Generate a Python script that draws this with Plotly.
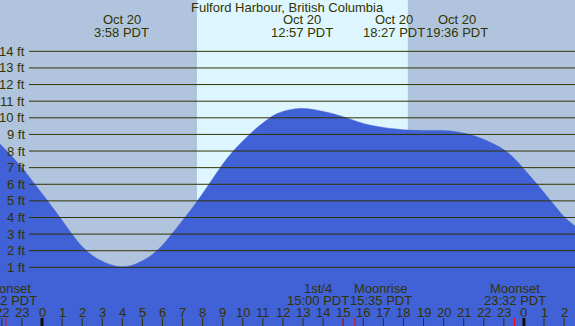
import plotly.graph_objects as go

# Tide curve (hours relative to Oct 20 00:00 PDT, height in ft)
hours = [-2.1, -1.5, -1.0, -0.5, 0.0, 0.5, 1.0, 1.5, 2.0, 2.5, 3.0, 3.5, 4.0, 4.5,
         5.0, 5.5, 6.0, 6.5, 7.0, 7.5, 8.0, 8.5, 9.0, 9.5, 10.0, 10.5, 11.0, 11.5,
         12.0, 12.5, 13.0, 13.5, 14.0, 14.5, 15.0, 15.5, 16.0, 16.5, 17.0, 17.5,
         18.0, 18.5, 19.0, 19.5, 20.0, 20.5, 21.0, 21.5, 22.0, 22.5, 23.0, 23.5,
         24.0, 24.5, 25.0, 25.5, 26.0, 26.55]
heights = [8.43, 7.68, 6.99, 6.23, 5.44, 4.65, 3.83, 2.99, 2.25, 1.72, 1.37, 1.13, 1.04, 1.13,
           1.39, 1.78, 2.33, 3.06, 3.82, 4.60, 5.44, 6.33, 7.21, 7.96, 8.60, 9.18, 9.68, 10.12,
           10.38, 10.52, 10.56, 10.50, 10.38, 10.24, 10.06, 9.86, 9.66, 9.52, 9.42, 9.34,
           9.28, 9.25, 9.24, 9.24, 9.23, 9.18, 9.08, 8.92, 8.70, 8.42, 8.08, 7.58,
           6.92, 6.22, 5.50, 4.76, 4.05, 3.48]

# Tide events (top labels)
tide_hours = [3.97, 12.95, 18.45, 19.6]
tide_dates = ["Oct 20", "Oct 20", "Oct 20", "Oct 20"]
tide_times = ["3:58 PDT", "12:57 PDT", "18:27 PDT", "19:36 PDT"]
tide_shift = [0, 0, -18, 21]

# Moon events (bottom labels)
moon_hours = [-1.8, 15.0, 15.583, 23.533]
moon_names = ["Moonset", "1st/4", "Moonrise", "Moonset"]
moon_times = ["22:12 PDT", "15:00 PDT", "15:35 PDT", "23:32 PDT"]
moon_shift = [0, -25, 26, 0]

sunrise, sunset = 7.717, 18.217
ft_levels = list(range(1, 15))
hour_ticks = list(range(-2, 27))

XMIN, XMAX = -2.092, 26.544
YMIN, YMAX = -2.53, 17.09
W, H = 575, 326

NIGHT = "#b0c4de"
DAY = "#ddf6ff"
WATER = "#4161d6"
INK = "#333300"
FONT = "Liberation Sans, Arial, sans-serif"

fig = go.Figure()
fig.add_trace(go.Scatter(x=[XMIN - 1, XMAX + 1], y=[YMIN - 1, YMIN - 1], mode="lines",
                         line=dict(width=0, color=WATER),
                         showlegend=False, hoverinfo="skip"))
fig.add_trace(go.Scatter(x=hours, y=heights, mode="lines",
                         line=dict(width=0.5, shape="spline", smoothing=1.1, color=WATER),
                         fill="tonexty", fillcolor=WATER, showlegend=False, hoverinfo="skip"))

shapes = [
    dict(type="rect", xref="x", yref="y", x0=XMIN - 1, x1=XMAX + 1, y0=YMIN - 1, y1=YMAX + 1,
         fillcolor=NIGHT, line_width=0, layer="below"),
    dict(type="rect", xref="x", yref="y", x0=sunrise, x1=sunset, y0=YMIN - 1, y1=YMAX + 1,
         fillcolor=DAY, line_width=0, layer="below"),
]
for lv in ft_levels:
    shapes.append(dict(type="line", xref="paper", yref="y", x0=29 / W, x1=1, y0=lv, y1=lv,
                       line=dict(color=INK, width=1), layer="above"))
tick_len = 8 / H
for h in hour_ticks:
    wdt = 3 if h % 24 == 0 else 1
    shapes.append(dict(type="line", xref="x", yref="paper", x0=h, x1=h, y0=0, y1=tick_len,
                       line=dict(color=INK if wdt == 1 else "#111100", width=wdt), layer="above"))
for mh in moon_hours:
    shapes.append(dict(type="line", xref="x", yref="paper", x0=mh, x1=mh, y0=0, y1=tick_len,
                       line=dict(color="#ff0000", width=1), layer="above"))

def py(p):
    return 1 - p / H

ann = []
fnt = dict(family=FONT, size=13, color=INK)
ann.append(dict(text="Fulford Harbour, British Columbia", xref="paper", yref="paper",
                x=0.5, y=py(8), xanchor="center", yanchor="middle", showarrow=False, font=fnt))
for th, d, t, s in zip(tide_hours, tide_dates, tide_times, tide_shift):
    ann.append(dict(text=d, xref="x", yref="paper", x=th, y=py(20), xshift=s,
                    xanchor="center", yanchor="middle", showarrow=False, font=fnt))
    ann.append(dict(text=t, xref="x", yref="paper", x=th, y=py(32.5), xshift=s,
                    xanchor="center", yanchor="middle", showarrow=False, font=fnt))
for lv in ft_levels:
    ann.append(dict(text=f"{lv} ft", xref="paper", yref="y", x=27 / W, y=lv,
                    xanchor="right", yanchor="middle", showarrow=False, font=fnt))
for mh, n, t, s in zip(moon_hours, moon_names, moon_times, moon_shift):
    ann.append(dict(text=n, xref="x", yref="paper", x=mh, y=py(288), xshift=s,
                    xanchor="center", yanchor="middle", showarrow=False, font=fnt))
    ann.append(dict(text=t, xref="x", yref="paper", x=mh, y=py(300), xshift=s,
                    xanchor="center", yanchor="middle", showarrow=False, font=fnt))
for h in hour_ticks:
    ann.append(dict(text=str(h % 24), xref="x", yref="paper", x=h, y=py(312),
                    xanchor="center", yanchor="middle", showarrow=False, font=fnt))

fig.update_layout(
    width=W, height=H, margin=dict(l=0, r=0, t=0, b=0),
    paper_bgcolor=NIGHT, plot_bgcolor=NIGHT,
    xaxis=dict(range=[XMIN, XMAX], visible=False, fixedrange=True),
    yaxis=dict(range=[YMIN, YMAX], visible=False, fixedrange=True),
    shapes=shapes, annotations=ann, showlegend=False,
)
fig.write_html("out.html", config={"displayModeBar": False},
               post_script="document.body.style.margin='0';document.body.style.padding='0';")
